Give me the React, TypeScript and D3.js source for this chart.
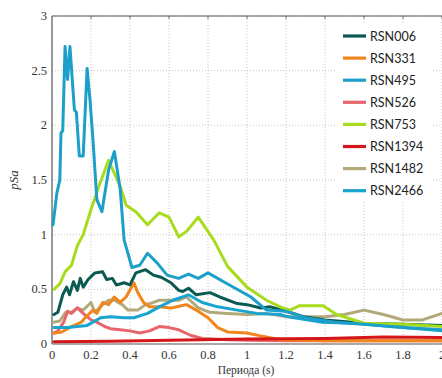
import React from "react";
import * as d3 from "d3";

// [period (s), pSa] pairs
const rsn006: [number, number][] = [
  [0.01, 0.27], [0.03, 0.29], [0.055, 0.45], [0.075, 0.52], [0.09, 0.45], [0.11, 0.57],
  [0.13, 0.49], [0.145, 0.6], [0.16, 0.52], [0.185, 0.59], [0.22, 0.65], [0.26, 0.66],
  [0.28, 0.59], [0.31, 0.6], [0.33, 0.54], [0.37, 0.56], [0.4, 0.54], [0.43, 0.65],
  [0.48, 0.68], [0.52, 0.63], [0.56, 0.61], [0.61, 0.56], [0.65, 0.49], [0.67, 0.48],
  [0.7, 0.51], [0.74, 0.45], [0.81, 0.47], [0.86, 0.43], [0.95, 0.37], [1.0, 0.36],
  [1.07, 0.33], [1.12, 0.34], [1.2, 0.3], [1.29, 0.25], [1.4, 0.22], [1.6, 0.19],
  [1.8, 0.18], [2.0, 0.17],
];
const rsn331: [number, number][] = [
  [0.01, 0.1], [0.05, 0.11], [0.1, 0.16], [0.15, 0.2], [0.17, 0.24], [0.21, 0.31],
  [0.23, 0.28], [0.26, 0.38], [0.29, 0.36], [0.32, 0.43], [0.35, 0.38], [0.38, 0.43],
  [0.42, 0.56], [0.44, 0.47], [0.47, 0.38], [0.5, 0.34], [0.55, 0.34], [0.61, 0.33],
  [0.64, 0.34], [0.69, 0.36], [0.74, 0.31], [0.8, 0.24], [0.85, 0.15], [0.9, 0.11],
  [1.0, 0.1], [1.08, 0.07], [1.17, 0.04], [1.4, 0.03], [1.7, 0.03], [2.0, 0.03],
];
const rsn495: [number, number][] = [
  [0.005, 1.09], [0.025, 1.38], [0.04, 1.5], [0.046, 1.93], [0.055, 1.95], [0.067, 2.72],
  [0.08, 2.42], [0.092, 2.72], [0.115, 2.14], [0.125, 2.12], [0.14, 1.72], [0.16, 1.72],
  [0.18, 2.52], [0.195, 2.23], [0.21, 1.87], [0.23, 1.32], [0.256, 1.21], [0.29, 1.59],
  [0.32, 1.76], [0.35, 1.41], [0.37, 0.95], [0.41, 0.7], [0.45, 0.72], [0.49, 0.83],
  [0.54, 0.74], [0.59, 0.63], [0.65, 0.6], [0.7, 0.64], [0.75, 0.6], [0.8, 0.65],
  [0.91, 0.54], [1.02, 0.43], [1.1, 0.31], [1.2, 0.3], [1.3, 0.24], [1.45, 0.2],
  [1.6, 0.18], [1.8, 0.15], [2.0, 0.13],
];
const rsn526: [number, number][] = [
  [0.01, 0.1], [0.03, 0.12], [0.06, 0.2], [0.08, 0.3], [0.1, 0.28], [0.13, 0.33],
  [0.16, 0.28], [0.2, 0.22], [0.23, 0.2], [0.27, 0.16], [0.3, 0.14], [0.35, 0.13],
  [0.4, 0.12], [0.45, 0.1], [0.5, 0.12], [0.55, 0.16], [0.6, 0.15], [0.65, 0.13],
  [0.71, 0.08], [0.77, 0.05], [0.9, 0.04], [1.0, 0.035], [1.2, 0.03], [1.6, 0.03],
  [2.0, 0.03],
];
const rsn753: [number, number][] = [
  [0.01, 0.5], [0.04, 0.55], [0.067, 0.66], [0.1, 0.72], [0.13, 0.9], [0.16, 1.0],
  [0.2, 1.23], [0.24, 1.44], [0.29, 1.68], [0.32, 1.56], [0.35, 1.44], [0.38, 1.27],
  [0.43, 1.21], [0.49, 1.09], [0.55, 1.2], [0.6, 1.16], [0.65, 0.98], [0.69, 1.03],
  [0.75, 1.16], [0.83, 0.95], [0.9, 0.71], [1.0, 0.52], [1.1, 0.4], [1.17, 0.34],
  [1.22, 0.31], [1.27, 0.35], [1.39, 0.35], [1.46, 0.27], [1.6, 0.19], [1.8, 0.18],
  [2.0, 0.16],
];
const rsn1394: [number, number][] = [
  [0.01, 0.02], [0.3, 0.025], [0.6, 0.035], [1.0, 0.045], [1.4, 0.05], [1.7, 0.065],
  [2.0, 0.06],
];
const rsn1482: [number, number][] = [
  [0.01, 0.2], [0.04, 0.21], [0.07, 0.29], [0.1, 0.29], [0.13, 0.33], [0.16, 0.31],
  [0.2, 0.38], [0.22, 0.29], [0.26, 0.36], [0.29, 0.4], [0.32, 0.4], [0.36, 0.36],
  [0.39, 0.31], [0.44, 0.31], [0.48, 0.36], [0.52, 0.38], [0.55, 0.4], [0.65, 0.4],
  [0.69, 0.43], [0.75, 0.33], [0.81, 0.29], [0.9, 0.28], [1.0, 0.27], [1.1, 0.28],
  [1.2, 0.25], [1.4, 0.25], [1.5, 0.27], [1.6, 0.31], [1.7, 0.27], [1.8, 0.22],
  [1.9, 0.22], [2.0, 0.28],
];
const rsn2466: [number, number][] = [
  [0.01, 0.15], [0.08, 0.15], [0.13, 0.16], [0.18, 0.17], [0.21, 0.2], [0.25, 0.24],
  [0.3, 0.25], [0.37, 0.24], [0.42, 0.24], [0.49, 0.28], [0.55, 0.34], [0.62, 0.4],
  [0.7, 0.45], [0.77, 0.38], [0.85, 0.34], [0.95, 0.31], [1.05, 0.28], [1.17, 0.27],
  [1.21, 0.25], [1.38, 0.2], [1.55, 0.19], [1.8, 0.15], [2.0, 0.12],
];

const seriesNames = ["RSN006", "RSN331", "RSN495", "RSN526", "RSN753", "RSN1394", "RSN1482", "RSN2466"];
const seriesData = [rsn006, rsn331, rsn495, rsn526, rsn753, rsn1394, rsn1482, rsn2466];
const seriesColors = ["#0b5a52", "#f0861c", "#1c9fc9", "#e8666b", "#a7dc1e", "#d4151a", "#b2a97a", "#19a3cf"];

const xTicks = [0, 0.2, 0.4, 0.6, 0.8, 1, 1.2, 1.4, 1.6, 1.8, 2];
const yTicks = [0, 0.5, 1, 1.5, 2, 2.5, 3];

const W = 442;
const H = 378;
const margin = { left: 52, right: 0, top: 16, bottom: 34 };

export default function App() {
  const x = d3.scaleLinear().domain([0, 2]).range([margin.left, W - margin.right]);
  const y = d3.scaleLinear().domain([0, 3]).range([H - margin.bottom, margin.top]);
  const line = d3.line<[number, number]>()
    .x(d => x(d[0]))
    .y(d => y(d[1]));

  // drawing order: leave the big blue on top like the reference
  const order = [6, 3, 1, 5, 7, 0, 4, 2];

  return (
    <svg width={W} height={H} style={{ position: "absolute", left: 0, top: 0, display: "block" }}>
      <rect x={0} y={0} width={W} height={H} fill="white" />
      {/* grid */}
      <g stroke="#b8b8b8" strokeWidth={0.8} strokeDasharray="1,2">
        {xTicks.slice(1).map(t => (
          <line key={"gx" + t} x1={x(t)} x2={x(t)} y1={y(0)} y2={y(3)} />
        ))}
        {yTicks.slice(1).map(t => (
          <line key={"gy" + t} x1={x(0)} x2={W} y1={y(t)} y2={y(t)} />
        ))}
      </g>
      {/* frame */}
      <g stroke="#555" strokeWidth={1.2} fill="none">
        <line x1={x(0)} x2={W} y1={y(3)} y2={y(3)} />
        <line x1={x(0)} x2={W} y1={y(0)} y2={y(0)} />
        <line x1={x(0)} x2={x(0)} y1={y(0)} y2={y(3)} />
      </g>
      <g stroke="#555" strokeWidth={0.8}>
        {xTicks.slice(1).map(t => (
          <line key={"tt" + t} x1={x(t)} x2={x(t)} y1={y(3)} y2={y(3) + 3} />
        ))}
      </g>
      {/* series */}
      <g fill="none" strokeWidth={3} strokeLinejoin="round" strokeLinecap="round">
        {order.map(i => (
          <path key={seriesNames[i]} d={line(seriesData[i]) ?? ""} stroke={seriesColors[i]} />
        ))}
      </g>
      {/* tick labels */}
      <g fontFamily="'Liberation Serif', 'DejaVu Serif', serif" fontSize={12.5} fill="#333">
        {xTicks.map(t => (
          <text key={"xl" + t} x={x(t)} y={y(0) + 15} textAnchor="middle">{d3.format("~g")(t)}</text>
        ))}
        {yTicks.map(t => (
          <text key={"yl" + t} x={x(0) - 5} y={y(t) + 4} textAnchor="end">{d3.format("~g")(t)}</text>
        ))}
      </g>
      <text x={246} y={374} textAnchor="middle" fontFamily="'Liberation Serif', serif" fontSize={11.5} fill="#333">
        Периода (s)
      </text>
      <text transform={`translate(18,${(y(0) + y(3)) / 2}) rotate(-90)`} textAnchor="middle"
        fontFamily="'Liberation Serif', serif" fontStyle="italic" fontSize={13} fill="#333">
        pSa
      </text>
      {/* legend */}
      <g>
        <rect x={335} y={23} width={97} height={178} fill="white" />
        {seriesNames.map((name, i) => (
          <g key={name} transform={`translate(343,${36 + i * 22.1})`}>
            <line x1={0} x2={23} y1={0} y2={0} stroke={seriesColors[i]} strokeWidth={3.2} />
            <text x={27} y={4.5} fontFamily="Lato, 'Open Sans', sans-serif" fontSize={12.5} fill="#222">{name}</text>
          </g>
        ))}
      </g>
    </svg>
  );
}
